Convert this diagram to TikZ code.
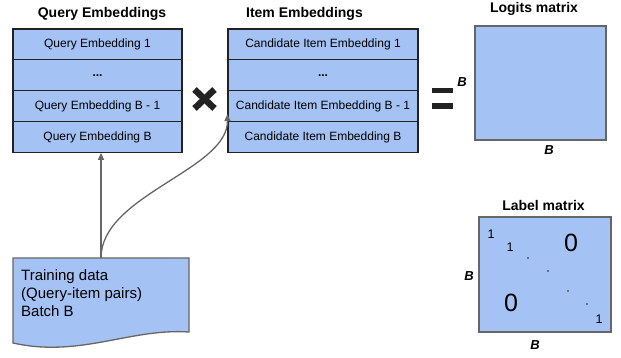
\documentclass[tikz,border=0pt]{standalone}
\usepackage{fontspec}
\setmainfont{Liberation Sans}
\usetikzlibrary{arrows.meta}
\definecolor{cellblue}{HTML}{A4C2F4}
\definecolor{edgegray}{HTML}{666666}
\definecolor{inkdark}{HTML}{222222}
\tikzset{
  cell/.style={draw=inkdark, line width=1.2pt, fill=cellblue, minimum height=30.8pt, inner sep=0pt, font=\fontsize{12}{14}\selectfont},
  qcell/.style={cell, minimum width=169pt},
  icell/.style={cell, minimum width=190pt},
  heading/.style={font=\bfseries\fontsize{14}{16}\selectfont, inner sep=0pt},
  mat/.style={draw=edgegray, line width=1.5pt, fill=cellblue, inner sep=0pt},
  dimlabel/.style={font=\bfseries\itshape\fontsize{13}{15}\selectfont, inner sep=0pt},
  feed/.style={draw=edgegray, line width=1.3pt, -{Triangle[length=7pt,width=6pt]}},
  entry/.style={inner sep=0pt, font=\fontsize{12.5}{14}\selectfont},
  bigentry/.style={inner sep=0pt, font=\fontsize{25}{28}\selectfont},
}
\begin{document}
\begin{tikzpicture}[x=1pt,y=-1pt]
\useasboundingbox (0,0) rectangle (621,358);

% query embeddings table
\node[heading] (qtitle) at (102,14) {Query Embeddings};
\node[qcell] (q1) at (97.5,44.5) {Query Embedding 1};
\node[qcell] (q2) at (97.5,75.3) {\bfseries ...};
\node[qcell] (q3) at (97.5,106.1) {Query Embedding B - 1};
\node[qcell] (q4) at (97.5,136.9) {Query Embedding B};

% item embeddings table
\node[heading] (ititle) at (304.5,14) {Item Embeddings};
\node[icell] (i1) at (323,44.5) {Candidate Item Embedding 1};
\node[icell] (i2) at (323,75.3) {\bfseries ...};
\node[icell] (i3) at (323,106.1) {Candidate Item Embedding B - 1};
\node[icell] (i4) at (323,136.9) {Candidate Item Embedding B};

% multiplication sign
\draw[inkdark, line width=6.5pt] (194.5,89.5) -- (214.5,108.5);
\draw[inkdark, line width=6.5pt] (194.5,108.5) -- (214.5,89.5);

% equals sign
\fill[inkdark] (432,88) rectangle (453,93.5);
\fill[inkdark] (432,103.5) rectangle (453,109);

% logits matrix
\node[heading] (ltitle) at (534,9) {Logits matrix};
\node[mat, minimum width=131pt, minimum height=114pt] (logits) at (540.5,83) {};
\node[dimlabel] (lrow) at (462,82) {B};
\node[dimlabel] (lcol) at (549,150) {B};

% label matrix
\node[heading] (btitle) at (543.5,205) {Label matrix};
\node[mat, minimum width=132pt, minimum height=115pt] (labels) at (545,274.5) {};
\node[dimlabel] (brow) at (469,276) {B};
\node[dimlabel] (bcol) at (535,345) {B};
\node[entry] (d1) at (491,234) {1};
\node[entry] (d2) at (510,247) {1};
\node[bigentry] (zup) at (571,243) {0};
\node[bigentry] (zlo) at (511,303) {0};
\node[entry] (dn) at (599,319) {1};
\foreach \px/\py in {528/258, 548/271, 568/291, 587/304}
  \fill[inkdark] (\px,\py) circle (0.8pt);

% training data document
\draw[draw=edgegray, line width=1.3pt, fill=cellblue]
  (13,258) -- (189,258) -- (189,332)
  .. controls (130,328) and (80,358) .. (13,343) -- cycle;
\coordinate (doctop) at (101,258);
\node[anchor=north west, align=left, inner sep=0pt, font=\fontsize{15}{18}\selectfont] (doctext) at (21,269)
  {Training data\\(Query-item pairs)\\Batch B};

% connectors
\draw[feed] (doctop) -- (q4.south -| doctop);
\draw[feed] (doctop) .. controls (101,195) and (228,170) .. ([yshift=8pt]i3.south west);
\end{tikzpicture}
\end{document}
